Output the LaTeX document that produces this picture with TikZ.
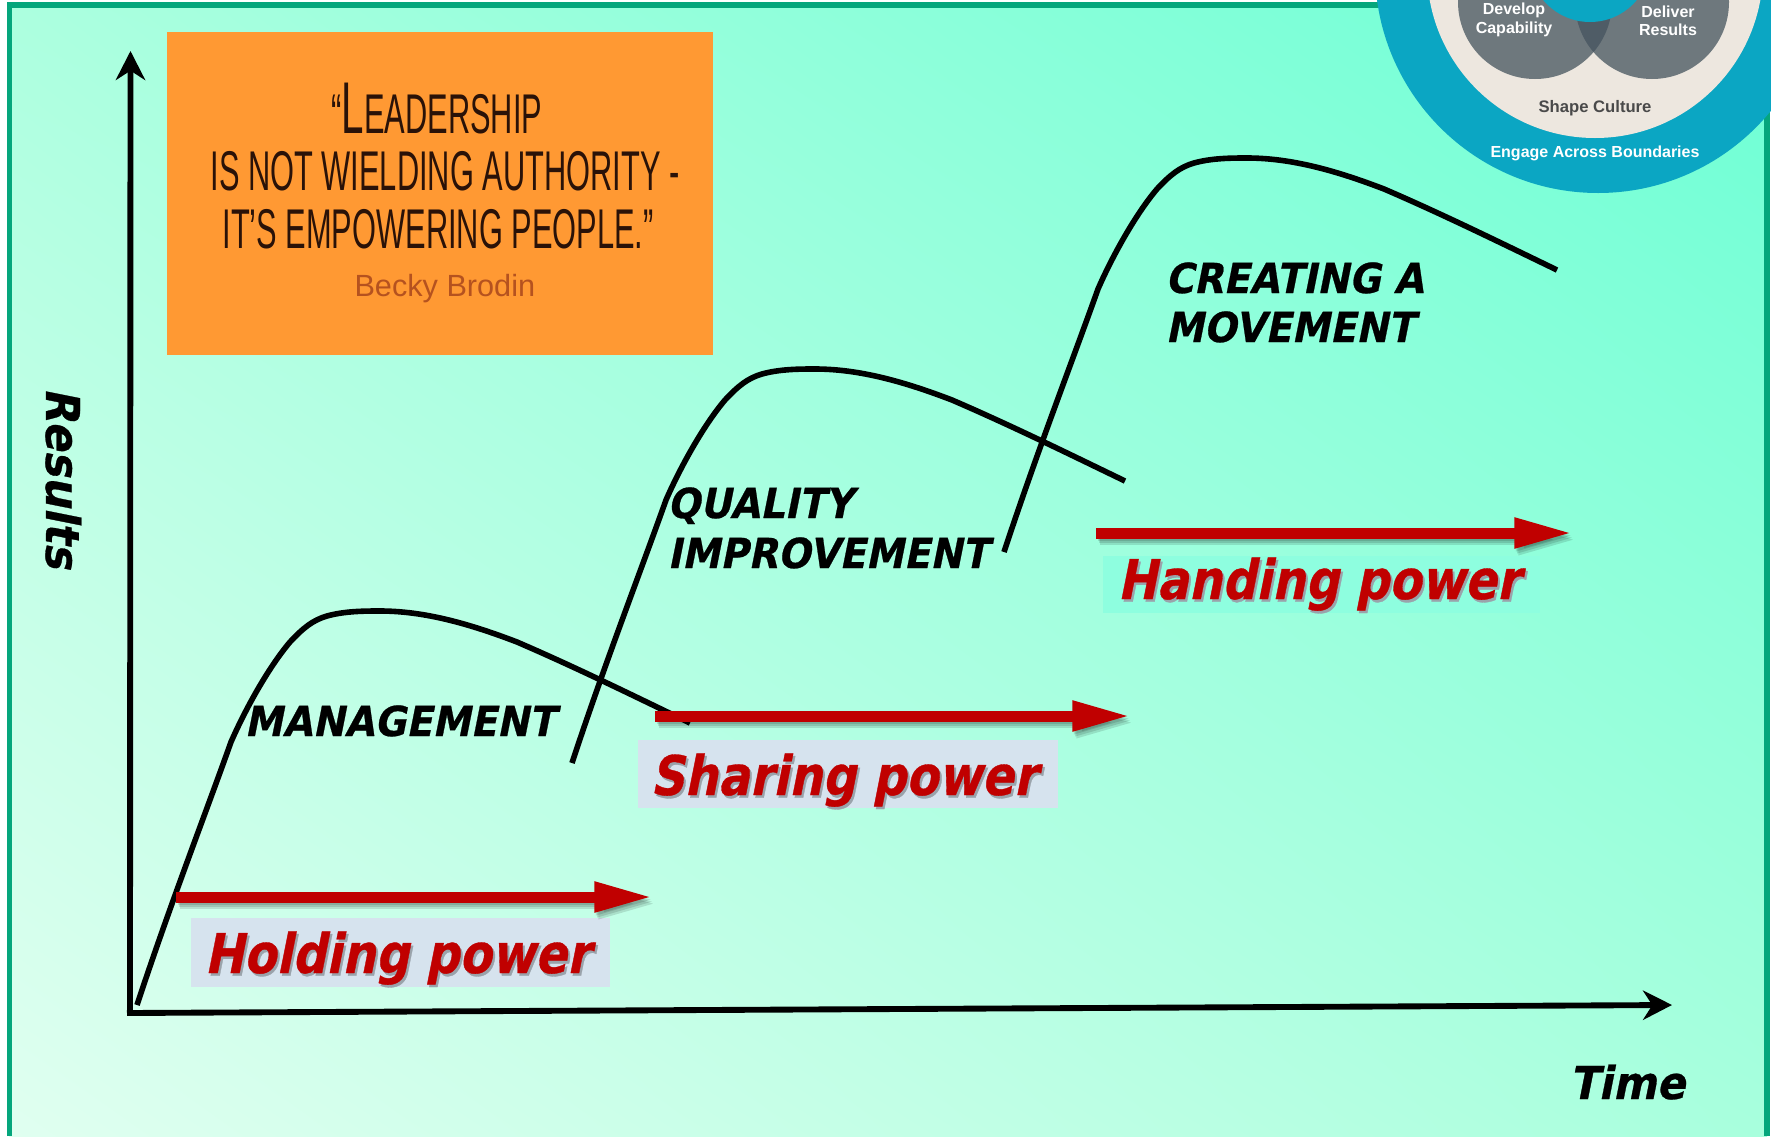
\documentclass[tikz,border=0pt]{standalone}
\usepackage{fontspec}
\usetikzlibrary{arrows.meta,shadings}
\setmainfont{Liberation Sans}
\newfontfamily\powerfont[FakeStretch=0.86,FakeSlant=0.2,FakeBold=0.6]{DejaVu Sans}
\newfontfamily\stagefont[FakeStretch=0.93,FakeSlant=0.2,FakeBold=0.6]{DejaVu Sans}
\newfontfamily\quotefont[FakeStretch=0.55]{Liberation Sans}
\definecolor{framegreen}{HTML}{05A67C}
\definecolor{powerred}{HTML}{C00000}
\definecolor{powerbox}{HTML}{D6E3EE}
\definecolor{handbox}{HTML}{8EFEDF}
\definecolor{quoteorange}{HTML}{FF9933}
\definecolor{quoteink}{HTML}{2A1208}
\definecolor{quotename}{HTML}{B5521F}
\definecolor{ringteal}{HTML}{0BA6C3}
\definecolor{ringbeige}{HTML}{EDE7DF}
\definecolor{ringgrey}{HTML}{6E787D}
\definecolor{ringdark}{HTML}{4F5C66}
\definecolor{ringtext}{HTML}{4A4A4A}
\definecolor{bglowleft}{HTML}{E0FFF0}
\definecolor{bgupleft}{HTML}{ACFFDF}
\definecolor{bgupright}{HTML}{6CFFD5}
\definecolor{bglowright}{HTML}{A8FFDD}
\tikzset{every picture/.style={line width=0.75pt}}
\tikzset{
  axisline/.style={line width=4.4pt,-{Stealth[length=21.75pt,width=22pt,inset=7pt]}},
  stagecurve/.style={line width=4.2pt},
  powerarrow/.style={line width=8.25pt,color=powerred,-{Triangle[length=44pt,width=21pt]}},
  powershade/.style={powerarrow,color=black,opacity=0.12,transform canvas={xshift=#1*0.6pt,yshift=-#1pt}},
  stagelabel/.style={anchor=base west,inner sep=0.75pt,font=\stagefont\bfseries\fontsize{31}{37}\selectfont},
  powerlabel/.style={anchor=base west,inner sep=0.75pt,text=powerred,font=\powerfont\bfseries\fontsize{41}{49}\selectfont},
  quoteline/.style={anchor=base west,inner sep=0.75pt,text=quoteink,font=\quotefont\fontsize{42}{50}\selectfont},
  ringlabel/.style={anchor=base,inner sep=0.75pt,text=white,font=\bfseries\fontsize{12}{14}\selectfont}
}
\newcommand{\stagepath}{(137,1005) .. controls (170,905) and (205,815) .. (231,742) .. controls (245,710) and (268,668) .. (290,642) .. controls (303,628) and (313,620) .. (327,616) .. controls (345,611) and (365,611) .. (380,611) .. controls (425,611) and (470,624) .. (517,642) .. controls (575,667) and (630,694) .. (690,723)}
\newcommand{\softshadow}[1]{\rlap{\kern1.5pt\raisebox{-2pt}{\textcolor{black!28!powerbox}{#1}}}#1}

\begin{document}
\begin{tikzpicture}[x=0.75pt,y=0.75pt,yscale=-1,xscale=1]
\useasboundingbox (0,0) rectangle (1771,1136);

%Shape: Background
\fill [white] (0,0) rectangle (1771,1136);
\shade [lower left=bglowleft,upper left=bgupleft,upper right=bgupright,lower right=bglowright] (9,5) rectangle (1767,1136);
\draw [framegreen,line width=3.9pt] (9.5,1136) -- (9.5,5) -- (1767,5) -- (1767,1136);

%Shape: Ring emblem
\begin{scope}
\clip (0,0) rectangle (1771,1136);
\fill [ringteal] (1598,-30) circle [radius=223];
\fill [ringbeige] (1595,-30) circle [radius=168];
\fill [ringgrey] (1535,2) circle [radius=77];
\fill [ringgrey] (1652,2) circle [radius=77];
\begin{scope}
\clip (1535,2) circle [radius=77];
\fill [ringdark] (1652,2) circle [radius=77];
\end{scope}
\fill [ringteal] (1590,-39) circle [radius=61];
\end{scope}

% Text Node
\draw (1514,14) node (develop) [ringlabel] {Develop};
\draw (1514,33) node (capability) [ringlabel] {Capability};
\draw (1668,17) node (deliver) [ringlabel] {Deliver};
\draw (1668,35) node (delivered) [ringlabel] {Results};
\draw (1595,112) node (culture) [ringlabel,text=ringtext,font=\bfseries\fontsize{12.5}{14}\selectfont] {Shape Culture};
\draw (1595,157) node (boundaries) [ringlabel] {Engage Across Boundaries};

%Shape: Quote card
\fill [quoteorange] (167,32) rectangle (713,355);
% Text Node
\draw (330,133) node (quoteone) [quoteline] {“{\fontsize{55}{60}\selectfont L}EADERSHIP};
\draw (209,190) node (quotetwo) [quoteline] {IS NOT WIELDING AUTHORITY -};
\draw (221,248) node (quotethree) [quoteline] {IT’S EMPOWERING PEOPLE.”};
\draw (353,296) node (quotename) [quoteline,text=quotename,font=\fontsize{23}{26}\selectfont] {Becky Brodin};

%Shape: Label boxes
\fill [powerbox] (191,918) rectangle (610,987);
\fill [powerbox] (638,740) rectangle (1058,808);
\fill [handbox] (1103,556) rectangle (1540,613);

%Straight Lines
\coordinate (origin) at (130,1012);
\coordinate (ytip) at (130.5,51);
\coordinate (xstart) at (127,1013);
\coordinate (xtip) at (1672,1005);
\draw [axisline] (origin) -- (ytip);
\draw [axisline] (xstart) -- (xtip);

%Curve Lines
\draw [stagecurve] \stagepath;
\draw [stagecurve,shift={(435,-242)}] \stagepath;
\draw [stagecurve,shift={(867,-453)}] \stagepath;

%Straight Lines
\coordinate (holdstart) at (176,897);
\coordinate (holdtip) at (653,897);
\coordinate (sharestart) at (655,716);
\coordinate (sharetip) at (1131,716);
\coordinate (handstart) at (1096,533);
\coordinate (handtip) at (1573,533);
\foreach \fromc/\toc in {holdstart/holdtip,sharestart/sharetip,handstart/handtip}{
  \foreach \off in {2,3.5,5}{
    \draw [powershade=\off] (\fromc) -- (\toc);
  }
  \draw [powerarrow] (\fromc) -- (\toc);
}

% Text Node
\draw (243,736) node (management) [stagelabel] {MANAGEMENT};
\draw (666,518) node (quality) [stagelabel] {QUALITY};
\draw (666,568) node (improvement) [stagelabel] {IMPROVEMENT};
\draw (1164,293) node (creating) [stagelabel] {CREATING A};
\draw (1164,342) node (movement) [stagelabel] {MOVEMENT};
\draw (203,973) node (holding) [powerlabel] {\softshadow{Holding power}};
\draw (649,795) node (sharing) [powerlabel] {\softshadow{Sharing power}};
\draw (1116,599) node (handing) [powerlabel] {\softshadow{Handing power}};
\draw (1568,1099) node (timelabel) [anchor=base west,inner sep=0.75pt,font=\stagefont\bfseries\fontsize{34}{40}\selectfont] {Time};
\draw (46,478) node (resultslabel) [anchor=base,rotate=-90,inner sep=0.75pt,font=\stagefont\bfseries\fontsize{35}{40}\selectfont] {Results};

\end{tikzpicture}
\end{document}
